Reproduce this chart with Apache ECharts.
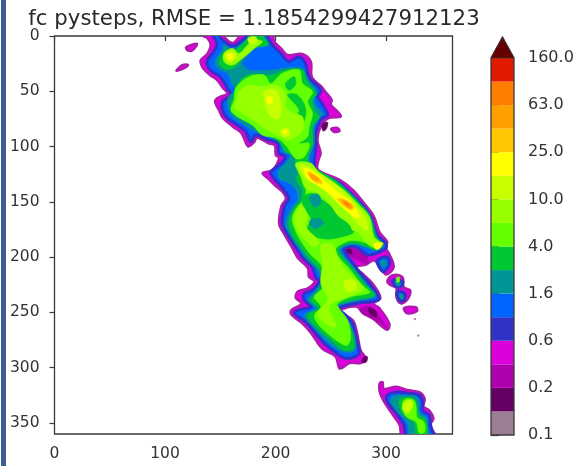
<!DOCTYPE html>
<html><head><meta charset="utf-8">
<script src="https://cdn.jsdelivr.net/npm/echarts@6/dist/echarts.min.js"></script>
<style>html,body{margin:0;padding:0;background:#fff}#c{width:585px;height:466px}</style>
</head><body><div id="c"></div>
<script>
const titleText = "fc pysteps, RMSE = 1.1854299427912123";
const cbLabels = ["0.1","0.2","0.6","1.6","4.0","10.0","25.0","63.0","160.0"];
const cbColors = ["#9c7e94","#640064","#AF00AF","#DC00DC","#3232C8","#0064FF","#009696","#00C832","#64FF00","#96FF00","#C8FF00","#FFFF00","#FFC800","#FFA000","#FF7D00","#E11900"];
const overColor = "#640000";
const traceDots = [[326,256],[329,271]];

// contours in data units, one array per filled band
const bandMagenta = [
 [[134,-3],[134,0],[138,2],[141,8],[138,16],[132,22],[134,29],[140,35],[147,40],[152,47],[156,52],[149,55],[145,59],[149,68],[152,74],[161,82],[169,88],[175,100],[181,96],[183,92],[193,97],[199,99],[200,108],[203,110],[197,121],[188,124],[193,129],[199,135],[206,141],[209,147],[205,154],[203,170],[208,180],[215,192],[220,201],[229,210],[230,218],[235,222],[229,228],[220,231],[218,237],[223,242],[214,248],[214,252],[224,260],[232,269],[242,283],[254,290],[258,301],[267,296],[277,296],[282,292],[277,284],[274,269],[270,257],[261,251],[259,248],[273,245],[279,251],[288,256],[301,266],[303,260],[294,246],[289,242],[295,237],[288,224],[279,215],[273,209],[282,207],[289,203],[294,209],[300,216],[307,209],[303,197],[300,192],[301,186],[294,177],[289,163],[280,151],[270,139],[258,130],[244,124],[238,120],[239,112],[241,106],[238,94],[241,82],[248,74.5],[259,73],[256,68],[250,62],[251,58],[245,50],[242,46],[233,37],[232,23],[224,16],[211,17],[205,11],[199,5],[198,0],[198,-3],[167,-3],[167,0],[161,6],[153,0],[153,-3]],
 [[119,10],[129,7],[125,13],[120,13]],
 [[110,31.4],[116,26],[121,26],[116,30]],
 [[316,246],[327,245],[328,249],[319,251]],
 [[250,84],[256,83],[258,86],[253,87]],
 [[301,221],[307,216],[315,218],[316,227],[322,230],[319,239],[313,242],[309,236],[309,228],[303,225]],
 [[294,314],[297,313],[298,319],[309,317],[319,320],[330,322],[335,328],[334,335],[339,338.5],[343,346],[340,352],[343,358],[347,364],[315,364],[312,352],[306,343],[298,331],[294,322]]
];
const bandDarkMagenta = [
 [[263.5,192],[271,192],[283,199.7],[283,205.7],[274,202.7],[266.6,198]],
 [[278.6,245],[286,245],[294,254],[301.3,264.6],[295,260],[284.7,254],[277,249.5]]
];
const bandPurple = [
 [[264,193],[268,193],[269,197],[265,196]],
 [[279,291],[283,290],[282,295],[278,295]],
 [[284,246],[291,249],[291,254],[286,252]],
 [[236,58],[240,60],[238,65],[235,63]],
 [[242,80],[247,78],[246,84],[243,86]]
];
const bandIndigo = [
 [[143.5,-3],[143.5,0],[147,6.7],[144,14],[138,23],[141,31],[150,37],[156,47],[159.5,53],[152,59.5],[152,67],[156.5,74.5],[165.5,80.6],[173,86.6],[177.6,95.7],[182,89.6],[192.7,94],[201.7,97],[203,106],[209,109],[205,115],[195.7,123],[197,127],[209,141],[212,147],[208,154],[206,170],[211,180],[218,190.6],[224,200],[233,209],[236,218],[239.4,222],[233,230],[226,233],[226,239],[232,245],[220,248],[217,251],[227,258.5],[235,267.6],[244,278],[257.5,288.7],[263.5,291.7],[272.6,290],[275.6,285.7],[272.6,272],[269.6,260],[263.5,252.5],[257.5,246.5],[272.6,242],[286,240.4],[293.7,238],[286,225.3],[275.6,213.3],[268,202.7],[263.5,196.7],[262,192],[272.6,191],[283,198],[290.7,196.7],[299.7,192],[299.7,187.6],[292,180],[286,163.5],[277,151.4],[266.6,140.9],[256,131.8],[242.4,125.8],[236.4,121.2],[235,115],[236.4,100],[236.4,88],[241,76],[247,71.5],[245.5,67],[241,59.5],[238,55],[241,49],[230,37],[227,25],[221,18.7],[212,23],[205,16],[197,8],[192.6,0],[192.6,-3],[173,-3],[173,0],[170,3.6],[161,9],[152,3.6],[149,0],[149,-3]],
 [[292,203],[301,200],[303,207],[297,213]],
 [[306,221],[315,222],[313,227],[308,226]],
 [[310,231],[317,233],[316,239],[312,239]],
 [[301,325],[310,322],[319,323],[330,325],[333,331],[333,339],[339,343],[340,351],[342,364],[319,364],[316,352],[309,341],[301,331]]
];
const bandTeal = [
 [[152,13.3],[147.4,18.7],[145.3,24.8],[149,30.2],[156.5,34],[161,44.4],[164,48.3],[157.4,55],[156.5,64],[161,73],[170,79],[179,85],[185,87.5],[197,91.7],[204.7,97],[207.7,105.6],[215,103.8],[209,115.3],[203,121.3],[203,129],[212,133],[218,139],[220,148],[214,156],[209,169.5],[214,181.6],[221,192],[229,203],[238,212],[241,222],[235,231.4],[229,239],[236,246.5],[226,252.5],[235,264.6],[247,276.6],[260.5,285.7],[271,284.8],[272.6,276.6],[268,261.5],[262,252.5],[256,245],[269.6,240.4],[290.7,235.3],[283,225.3],[272.6,211.8],[259,193.7],[266.6,189],[274,189],[283,192],[290.7,194.3],[298,189],[292,182],[286,163],[275.6,150],[265,139.4],[254.5,130.3],[242.4,124.3],[233.4,118.2],[230.4,110.8],[235,97],[235,82],[239.4,74.5],[242.4,70],[236.4,62.5],[235,55],[238,52],[229,38.3],[224.3,29.3],[206,29.3],[197,30.8],[176,30.8],[170,24.8],[173,20],[182,11],[194,8],[189.6,0],[189.6,-3],[176,-3],[176,0],[170,6],[161,12],[153.4,8]],
 [[295,204],[299,203],[300,207],[297,209]],
 [[308,222],[313,223],[312,226],[309,225]],
 [[312,233],[315,234],[315,238],[313,238]],
 [[306,326],[315,325],[327,326],[330,332],[330,340],[337,346],[337,355],[340,364],[322,364],[319,350],[310,340],[304,331]]
];
const bandGreen = [
 [[155,12.7],[150.4,18.7],[149,24.8],[155,30.2],[164,27.8],[170,20.2],[179,11],[192.7,8],[188.7,0],[188.7,-3],[177.6,-3],[177.6,0],[170,7.3],[161,14.2]],
 [[164,46],[174.6,35.3],[197,35.3],[209,30.8],[224.3,30.8],[227.4,39.9],[236.4,52],[233.4,58],[235,67],[239.4,73.6],[233.4,82],[233.4,97],[229,110.8],[232,116.7],[241,122.8],[253,130.3],[263.5,139.4],[274,150],[284.7,162],[290.7,181.6],[296.7,188.2],[290.7,193],[283,190.6],[274,187.6],[265,187.6],[257,193.7],[271,211.8],[281.6,225.3],[289,234.4],[269.6,239],[254.5,244.3],[260.5,252.5],[266.6,261.5],[271,276.6],[269.6,283.6],[260.5,283.6],[248.5,273.6],[238,264.6],[229,252.5],[239.4,246.5],[232,239],[239.4,229.9],[242.4,222],[239.4,210.3],[230.4,201.2],[222.8,190.6],[215,180],[212,168],[216.8,156],[222.8,148.4],[224.3,139.4],[219.8,131.8],[218,121.3],[216.8,109.2],[209,104.7],[203,95.7],[194,90.5],[183.6,83.6],[171.5,76],[162.5,70],[159.5,62.5],[162.5,53.4]],
 [[312,329],[318,327],[325,328],[328,335],[330,343],[336,348],[336.5,364],[328,364],[325,350],[316,343],[312,335]]
];
const bandBright = [
 [[164,47],[176,36.8],[189.6,35.3],[195.7,42.9],[206,33.8],[221.3,30.8],[224.3,43],[233.4,50.4],[229,59.5],[233.4,70],[230.4,82],[229,91.1],[221.3,97.2],[230.4,97.2],[225.8,109.2],[218.3,110.8],[209,98.7],[201.7,92.7],[188,89.6],[179,80.6],[165.5,73],[159.5,67],[162.5,58]],
 [[219.8,116.7],[232,117],[240,124],[252,132],[263,141],[273,152],[283,163],[288,181],[293,188],[289,191],[281,187],[272,185],[264,186],[254,194],[268,212],[278,225],[285,232],[268,236],[256,242],[257.5,246.5],[265,257],[268,272],[265,279.6],[259,278],[247,269],[238,260],[235,252.5],[241,245],[235,236],[242.4,228.4],[245.4,222],[241,207],[232,198],[224.3,187.6],[218.3,177],[215,165],[219.8,154.4],[225.8,148.4],[227.3,137.8],[224.3,128.8]],
 [[315,331],[319,328],[325,329.5],[327,335.5],[328,345],[334,349],[335,358],[330,359],[327,349],[319,345],[315,338.5]],
 [[309,219],[312,218],[312,222],[310,223]]
];
const bandGreenPatches = [
 [[210.8,53.4],[219.8,53.4],[227.4,67],[222.8,82],[216.8,76],[221.3,67]],
 [[209,43],[216.8,36.8],[218,44],[212,49]],
 [[227.3,143.9],[233.4,142.4],[242.4,148.4],[254.5,157.5],[263.5,168],[271,177],[257.5,182.2],[245.4,183.7],[231.9,180],[228.8,174],[231.9,165],[225.8,156],[224.3,148.4]],
 [[246,225.3],[251.5,220.8],[253,225.3],[248.5,229.9]]
];
const bandTealPatches = [
 [[231,145],[238,143],[241,150],[236,155],[232,151]],
 [[231,167],[240,165],[243,170],[236,174],[232,172]],
 [[205,124],[216,116],[220,122],[216,130],[208,129]]
];
const bandLime = [
 [[153.4,15.7],[161,11.2],[167,15.7],[176,6.7],[182,3.6],[188,5.2],[180.6,11.2],[170,20.2],[161,26.3],[153.4,23.3]],
 [[167,50.4],[176,44.4],[188,46],[200,44.4],[209,52],[209,64],[216.8,70],[224.3,73],[224.3,85],[212.3,94.2],[204.7,91.1],[192.7,85],[182,77.6],[170,70],[162.5,64],[165.5,56.4]],
 [[218.3,115.2],[232,115.2],[239.4,124.3],[251.5,131.8],[263.5,140.9],[274,151.4],[284.7,163.5],[289,181.6],[295,187.6],[289,191.2],[281.6,186.1],[274,177.1],[269.6,175.6],[266.6,169.5],[257.5,163.5],[248.5,151.4],[239.4,142.4],[227.3,137.8],[222.8,127.3]],
 [[241,189.1],[251.5,189.1],[257.5,202.7],[268,216.3],[280,228.4],[269.6,234.4],[257.5,238.9],[248.5,245],[254.5,263],[245.4,260],[237.9,251],[247,238.9],[241,223.8],[242.4,205.7]],
 [[216.8,165],[222.8,152.9],[228.8,162],[227.3,172.5],[239.4,186.1],[234.9,190.6],[225.8,183.1],[219.8,175.6]]
];
const bandYellowGreen = [
 [[154.3,15.7],[162.5,14.2],[164,20.2],[158,23.3]],
 [[189.6,50.4],[200,49],[204.7,62.5],[203,74.6],[195.7,73],[191,62.5]],
 [[204.7,85],[210.8,83.6],[212.3,89.6],[206.8,91.1]],
 [[222.8,116.7],[234.9,121.3],[248.5,130.3],[263.5,142.4],[272.6,152.9],[281.6,165],[283,175.6],[275.6,171],[266.6,160.5],[254.5,149.9],[242.4,137.8],[231.9,131.8],[224.3,124.3]],
 [[262,222.3],[271,220.8],[272.6,228.4],[265,231.4]],
 [[316,332.5],[321,329],[324,332.5],[322,338.5],[319,341.5],[315,337]],
 [[175,2],[182,1],[183,6],[177,7]]
];
const bandYellow = [
 [[225.8,119.7],[234.9,122.8],[245.4,131.8],[257.5,142.4],[268,149.9],[275.6,163.5],[271,163.5],[260.5,154.4],[250,143.9],[237.9,134.8],[228.8,128.8]],
 [[289,188.2],[296.7,187],[295,191.2],[290.7,193]],
 [[192,56],[196,55],[197,60],[193,61]],
 [[207,85],[210,85],[210,88],[207,88]],
 [[156,17],[160,16],[161,20],[157,21]]
];
const bandAmber = [
 [[228.8,122.8],[237.9,127.3],[242.4,133.3],[234.9,131.8]],
 [[256,146.9],[263.5,148.4],[271,154.4],[268,157.4],[259,151.4]]
];
const bandOrange = [
 [[230.4,124.3],[237.9,127.9],[239.4,130.9],[233.4,129.7]],
 [[259,148.4],[265,149.9],[269.6,154.4],[266.6,155.9]]
];
const bandDeep = [
 [[262,150.5],[265,151.5],[266.5,154],[264,153]]
];

const layers = [
 {rings:bandMagenta, fill:"#DC00DC", stroke:"#A81FA8", w:2},
 {rings:bandDarkMagenta, fill:"#AF00AF"},
 {rings:bandPurple, fill:"#640064"},
 {rings:bandIndigo, fill:"#0064FF", stroke:"#3232C8", w:3},
 {rings:bandTeal, fill:"#009696"},
 {rings:bandGreen, fill:"#00C832"},
 {rings:bandBright, fill:"#64FF00"},
 {rings:bandGreenPatches, fill:"#00C832"},
 {rings:bandTealPatches, fill:"#009696"},
 {rings:bandLime, fill:"#96FF00"},
 {rings:bandYellowGreen, fill:"#C8FF00"},
 {rings:bandYellow, fill:"#FFFF00"},
 {rings:bandAmber, fill:"#FFC800"},
 {rings:bandOrange, fill:"#FFA000"},
 {rings:bandDeep, fill:"#FF7D00"}
];

function contourSeries(layer){
 return {type:'custom',xAxisIndex:0,yAxisIndex:0,clip:true,z:3,silent:true,
  data:layer.rings.map((r,i)=>[r[0][0],r[0][1],i]),
  encode:{x:0,y:1},
  renderItem:(p,api)=>({type:'polygon',
    shape:{points:layer.rings[p.dataIndex].map(q=>api.coord(q)),smooth:0.35},
    style:{fill:layer.fill,stroke:layer.stroke||layer.fill,lineWidth:layer.w||0.6,lineJoin:'round'}})};
}
const ink="#3a3a3a";
const chart=echarts.init(document.getElementById('c'),null,{renderer:'canvas'});
chart.setOption({
 animation:false,backgroundColor:'#fff',
 title:{text:titleText,left:249,top:4,textAlign:'center',textStyle:{fontFamily:'DejaVu Sans',fontSize:21.3,fontWeight:'normal',color:'#2a2a2a'}},
 graphic:[{type:'rect',z:10,shape:{x:1,y:0,width:5,height:466},style:{fill:'#3d5f92'}}],
 grid:[
  {left:54.5,top:36,width:398,height:398,show:true,borderColor:ink,borderWidth:1.3,containLabel:false},
  {left:491,top:58,width:23,height:377,show:false}
 ],
 xAxis:[
  {type:'value',gridIndex:0,min:0,max:360,interval:100,splitLine:{show:false},axisLine:{show:false},
   axisTick:{show:true,length:5,lineStyle:{color:ink,width:1.2}},axisLabel:{showMaxLabel:false,fontFamily:'DejaVu Sans',fontSize:15.5,color:'#333',margin:12}},
  {type:'value',gridIndex:1,min:0,max:1,show:false}
 ],
 yAxis:[
  {type:'value',gridIndex:0,min:0,max:360,interval:50,inverse:true,splitLine:{show:false},axisLine:{show:false},
   axisTick:{show:true,length:5,lineStyle:{color:ink,width:1.2}},axisLabel:{showMaxLabel:false,fontFamily:'DejaVu Sans',fontSize:15.5,color:'#333',margin:15}},
  {type:'value',gridIndex:1,min:0,max:16,interval:2,position:'right',splitLine:{show:false},
   axisLine:{show:false},axisTick:{show:true,length:8,lineStyle:{color:ink,width:1.2}},
   axisLabel:{fontFamily:'DejaVu Sans',fontSize:16,color:'#333',margin:14,formatter:v=>cbLabels[v/2]}}
 ],
 series:[
  ...layers.map(contourSeries),
  {type:'scatter',xAxisIndex:0,yAxisIndex:0,z:3,symbolSize:2.5,silent:true,data:traceDots,itemStyle:{color:'#9c7e94'}},
  {type:'custom',xAxisIndex:1,yAxisIndex:1,clip:false,z:3,silent:true,
   data:cbColors.map((c,i)=>[0,i]),encode:{x:0,y:1},
   renderItem:(p,api)=>{const i=p.dataIndex,a=api.coord([0,i]),b=api.coord([1,i+1]);
     return {type:'rect',shape:{x:a[0],y:b[1],width:b[0]-a[0],height:a[1]-b[1]},style:{fill:cbColors[i]}};}},
  {type:'custom',xAxisIndex:1,yAxisIndex:1,clip:false,z:4,silent:true,
   data:[[0,16]],encode:{x:0,y:1},
   renderItem:(p,api)=>({type:'group',children:[
     {type:'polygon',shape:{points:[api.coord([0,0]),api.coord([1,0]),api.coord([1,16]),api.coord([0.5,16.89]),api.coord([0,16])]},style:{fill:'none',stroke:ink,lineWidth:1.3}},
     {type:'polygon',shape:{points:[api.coord([0,16]),api.coord([1,16]),api.coord([0.5,16.89])]},style:{fill:overColor,stroke:ink,lineWidth:0.8}}
   ]})}
 ]
});
</script></body></html>
